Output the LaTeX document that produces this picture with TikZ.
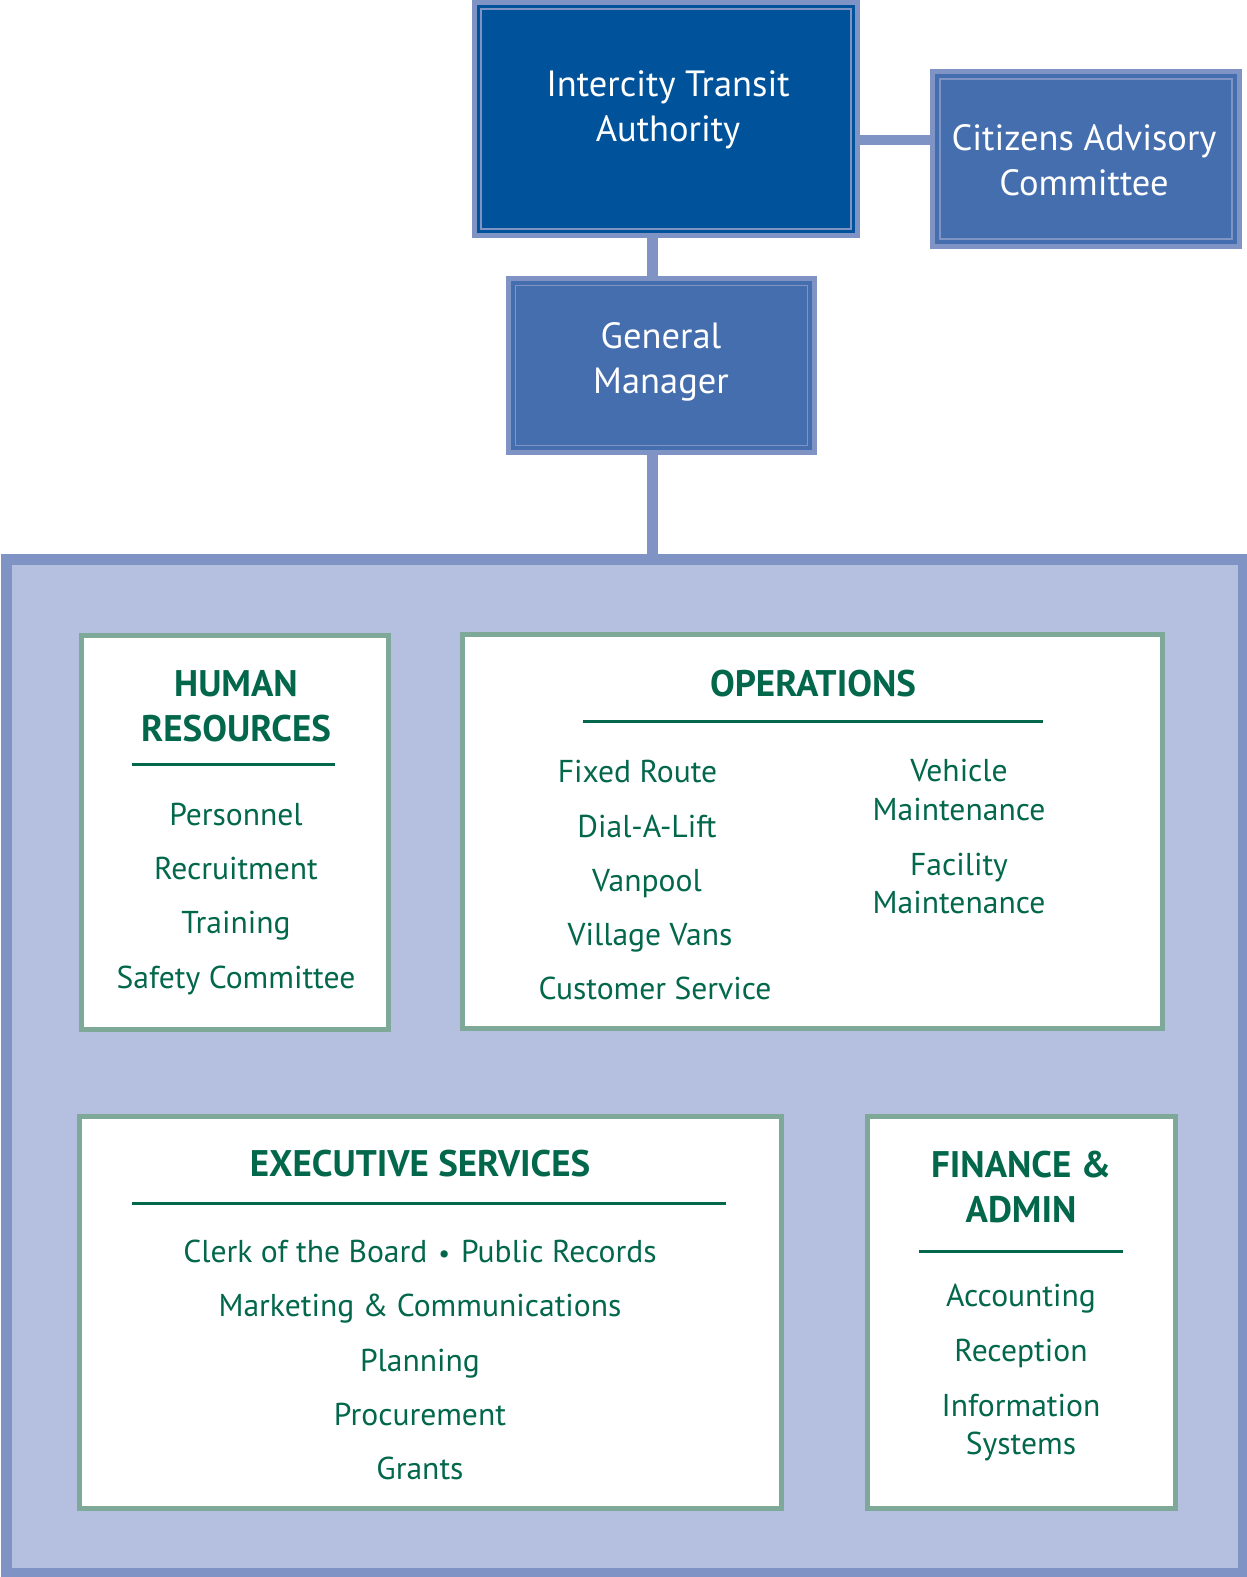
\documentclass[tikz,border=0pt]{standalone}
\usepackage{fontspec}
\setmainfont{PT Sans}
\definecolor{navy}{HTML}{00529B}
\definecolor{midblue}{HTML}{456EAE}
\definecolor{lightblue}{HTML}{7F94C5}
\definecolor{panelfill}{HTML}{B5BFDF}
\definecolor{greenborder}{HTML}{7EA898}
\definecolor{textgreen}{HTML}{03684B}
\begin{document}
\begin{tikzpicture}[x=1pt,y=-1pt,
  bluebox/.style={draw=lightblue, line width=5pt, outer sep=0pt, inner sep=0pt, fill=#1},
  thinline/.style={draw=lightblue, line width=1.2pt},
  greenbox/.style={draw=greenborder, line width=5pt, outer sep=0pt, inner sep=0pt, fill=white},
  conn/.style={draw=lightblue, line width=10.5pt},
  rulel/.style={draw=textgreen, line width=3pt},
  whitetxt/.style={anchor=base, inner sep=0pt, text=white, font=\fontsize{36.5}{42}\selectfont},
  head/.style={anchor=base, inner sep=0pt, text=textgreen, font=\fontsize{37}{42}\bfseries\selectfont},
  item/.style={anchor=base, inner sep=0pt, text=textgreen, font=\fontsize{31.6}{37}\selectfont}
]
\path[use as bounding box] (0,0) rectangle (1247,1577);

% outer panel
\node[bluebox=panelfill, line width=11pt, minimum width=1237pt, minimum height=1014pt] (panel) at (625,1066.5) {};

% top boxes
\node[bluebox=navy, minimum width=383pt, minimum height=233pt] (ita) at (666,119) {};
\node[bluebox=midblue, minimum width=307pt, minimum height=175pt] (cac) at (1086,159) {};
\node[bluebox=midblue, minimum width=306pt, minimum height=174pt] (gm) at (661.5,365.5) {};

% connectors
\coordinate (vx) at (652.5,0);
\coordinate (hy) at (0,140);
\draw[conn] (ita.east |- hy) -- (cac.west |- hy);
\draw[conn] (ita.south -| vx) -- (gm.north -| vx);
\draw[conn] (gm.south -| vx) -- (panel.north -| vx);

% inner thin lines
\draw[thinline] ([shift={(6.5,6.5)}]ita.north west) rectangle ([shift={(-6.5,-6.5)}]ita.south east);
\draw[thinline] ([shift={(7.5,7.5)}]cac.north west) rectangle ([shift={(-7.5,-7.5)}]cac.south east);
\draw[thinline] ([shift={(7,7)}]gm.north west) rectangle ([shift={(-7,-7)}]gm.south east);

\node[whitetxt] (ita1) at (668,96) {Intercity Transit};
\node[whitetxt] (ita2) at (668,141) {Authority};
\node[whitetxt] (cac1) at (1084,150) {Citizens Advisory};
\node[whitetxt] (cac2) at (1084,195) {Committee};
\node[whitetxt] (gm1) at (661,348) {General};
\node[whitetxt] (gm2) at (661,393) {Manager};

% department boxes
\node[greenbox, minimum width=307pt, minimum height=394pt] (hr) at (235,832.5) {};
\node[greenbox, minimum width=700pt, minimum height=394pt] (ops) at (812.5,831.5) {};
\node[greenbox, minimum width=702pt, minimum height=392pt] (exec) at (430.5,1312.5) {};
\node[greenbox, minimum width=308pt, minimum height=392pt] (fin) at (1021.5,1312.5) {};

% Human resources
\node[head] (hrh1) at (236,696) {HUMAN};
\node[head] (hrh2) at (236,741) {RESOURCES};
\coordinate (hrr1) at (132,764);
\coordinate (hrr2) at (335,764);
\draw[rulel] (hrr1) -- (hrr2);
\node[item] (hra) at (236,825) {Personnel};
\node[item] (hrb) at (236,879) {Recruitment};
\node[item] (hrc) at (236,933) {Training};
\node[item] (hrd) at (236,988) {Safety Committee};

% Operations
\node[head] (opsh) at (813,696) {OPERATIONS};
\coordinate (opr1) at (583,721);
\coordinate (opr2) at (1043,721);
\draw[rulel] (opr1) -- (opr2);
\node[item] (opa) at (637.5,782) {Fixed Route};
\node[item] (opb) at (647,837) {Dial-A-Lift};
\node[item] (opc) at (647,891) {Vanpool};
\node[item] (opd) at (650,945) {Village Vans};
\node[item] (ope) at (655,999.5) {Customer Service};
\node[item] (opf1) at (959,781) {Vehicle};
\node[item] (opf2) at (959,820) {Maintenance};
\node[item] (opg1) at (959,875) {Facility};
\node[item] (opg2) at (959,913) {Maintenance};

% Executive services
\node[head] (exh) at (420,1176) {EXECUTIVE SERVICES};
\coordinate (exr1) at (132,1203.5);
\coordinate (exr2) at (726,1203.5);
\draw[rulel] (exr1) -- (exr2);
\node[item] (exa) at (420,1262) {Clerk of the Board\hspace{11pt}{\fontsize{26}{30}\selectfont\textbullet}\hspace{11pt}Public Records};
\node[item] (exb) at (420,1316) {Marketing \& Communications};
\node[item] (exc) at (420,1371) {Planning};
\node[item] (exd) at (420,1425) {Procurement};
\node[item] (exe) at (420,1479) {Grants};

% Finance & admin
\node[head] (finh1) at (1021,1177) {FINANCE \&};
\node[head] (finh2) at (1021,1222) {ADMIN};
\coordinate (finr1) at (919,1251);
\coordinate (finr2) at (1123,1251);
\draw[rulel] (finr1) -- (finr2);
\node[item] (fina) at (1021,1306) {Accounting};
\node[item] (finb) at (1021,1361) {Reception};
\node[item] (finc1) at (1021,1416) {Information};
\node[item] (finc2) at (1021,1454) {Systems};
\end{tikzpicture}
\end{document}
